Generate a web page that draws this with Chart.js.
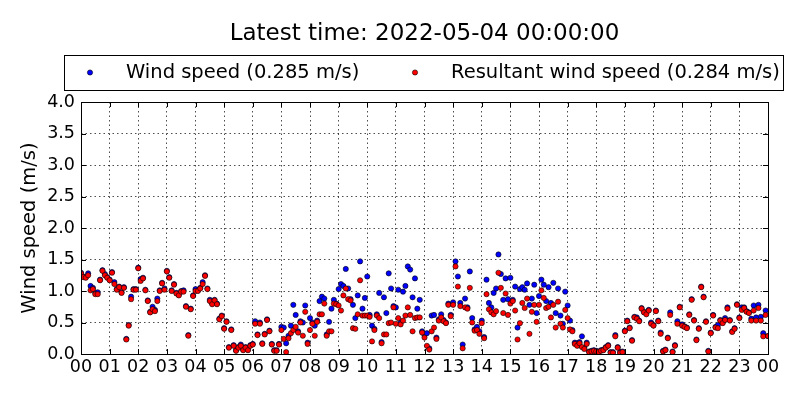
<!DOCTYPE html>
<html>
<head>
<meta charset="utf-8">
<script src="https://cdn.jsdelivr.net/npm/chart.js@4.4.0/dist/chart.umd.min.js"></script>
<style>
  html, body { margin: 0; padding: 0; background: #fff; }
  #wrap { width: 800px; height: 400px; }
</style>
</head>
<body>
<div id="wrap"><canvas id="windChart"></canvas></div>
<script>
// x axis tick labels, one per hour (00 .. 23, then 00 of the next day)
var hourLabels = ["00", "01", "02", "03", "04", "05", "06", "07", "08", "09", "10", "11",
                  "12", "13", "14", "15", "16", "17", "18", "19", "20", "21", "22", "23", "00"];

var seriesNames = ["Wind speed (0.285 m/s)", "Resultant wind speed (0.284 m/s)"];
var sampleMinutes = 5;

// wind speed (m/s), 5 minute samples, one row per hour
var windSpeed = [
  1.29, 1.23, 1.22, 1.28, 1.08, 1.05, 0.97, 0.98, 1.18, 1.33, 1.27, 1.22, // 00
  1.18, 1.30, 1.14, 1.03, 1.07, 0.98, 1.06, 0.24, 0.46, 0.91, 1.03, 1.03, // 01
  1.37, 1.19, 1.21, 1.02, 0.85, 0.67, 0.75, 0.70, 0.88, 1.01, 1.13, 1.04, // 02
  1.32, 1.22, 1.01, 1.11, 0.97, 0.94, 1.00, 1.01, 0.76, 0.30, 0.72, 0.93, // 03
  1.03, 1.01, 1.05, 1.14, 1.25, 1.04, 0.86, 0.80, 0.86, 0.80, 0.56, 0.61, // 04
  0.41, 0.52, 0.11, 0.39, 0.14, 0.06, 0.11, 0.15, 0.07, 0.11, 0.07, 0.14, // 05
  0.16, 0.52, 0.31, 0.50, 0.17, 0.32, 0.55, 0.37, 0.16, 0.06, 0.06, 0.16, // 06
  0.43, 0.42, 0.17, 0.29, 0.45, 0.78, 0.62, 0.36, 0.52, 0.50, 0.77, 0.18, // 07
  0.57, 0.50, 0.45, 0.53, 0.84, 0.91, 0.88, 0.31, 0.51, 0.72, 0.86, 0.80, // 08
  1.03, 1.11, 1.08, 1.35, 1.04, 0.87, 0.78, 0.57, 0.93, 1.47, 0.72, 0.89, // 09
  1.23, 0.62, 0.45, 0.40, 0.63, 0.97, 0.19, 0.90, 0.65, 1.28, 1.04, 0.76, // 10
  0.74, 1.02, 0.50, 0.99, 1.08, 1.39, 1.34, 0.90, 1.20, 0.72, 0.86, 0.36, // 11
  0.30, 0.33, 0.09, 0.61, 0.62, 0.26, 0.55, 0.63, 0.54, 0.50, 0.80, 0.62, // 12
  0.82, 1.47, 1.23, 0.81, 0.15, 0.88, 0.74, 1.31, 0.57, 0.39, 0.43, 0.36, // 13
  0.53, 0.27, 1.18, 0.81, 0.74, 0.97, 1.04, 1.58, 1.27, 0.86, 1.20, 0.87, // 14
  1.21, 0.86, 1.07, 0.42, 1.03, 1.06, 1.02, 1.12, 0.78, 0.88, 1.10, 0.65, // 15
  0.92, 1.18, 1.10, 0.84, 1.06, 0.81, 1.13, 0.65, 1.04, 0.61, 0.48, 0.99, // 16
  0.77, 0.53, 0.38, 0.18, 0.17, 0.19, 0.28, 0.10, 0.18, 0.04, 0.05, 0.06, // 17
  0.05, 0.04, 0.06, 0.07, 0.11, 0.14, 0.03, 0.03, 0.30, 0.11, 0.03, 0.04, // 18
  0.37, 0.53, 0.42, 0.22, 0.59, 0.58, 0.53, 0.73, 0.67, 0.65, 0.70, 0.50, // 19
  0.46, 0.69, 0.53, 0.34, 0.05, 0.07, 0.26, 0.66, 0.04, 0.14, 0.52, 0.75, // 20
  0.47, 0.44, 0.42, 0.63, 0.87, 0.54, 0.23, 0.41, 1.07, 0.91, 0.52, 0.05, // 21
  0.34, 0.62, 0.43, 0.46, 0.54, 0.50, 0.57, 0.74, 0.54, 0.36, 0.41, 0.79, // 22
  0.58, 0.74, 0.74, 0.68, 0.66, 0.56, 0.77, 0.58, 0.78, 0.59, 0.33, 0.69, // 23
  0.285
];

// resultant (vector mean) wind speed (m/s), same sampling
var resultantSpeed = [
  1.28, 1.22, 1.21, 1.25, 1.01, 1.03, 0.95, 0.95, 1.17, 1.32, 1.25, 1.21, // 00
  1.17, 1.29, 1.11, 1.02, 1.06, 0.97, 1.05, 0.23, 0.45, 0.87, 1.02, 1.02, // 01
  1.36, 1.16, 1.20, 1.01, 0.84, 0.66, 0.71, 0.68, 0.84, 1.00, 1.12, 1.02, // 02
  1.31, 1.21, 1.00, 1.10, 0.96, 0.93, 0.99, 0.99, 0.75, 0.29, 0.71, 0.92, // 03
  1.00, 1.00, 1.04, 1.11, 1.24, 1.03, 0.84, 0.79, 0.85, 0.79, 0.55, 0.60, // 04
  0.40, 0.51, 0.10, 0.38, 0.13, 0.05, 0.10, 0.13, 0.06, 0.10, 0.06, 0.13, // 05
  0.15, 0.48, 0.30, 0.48, 0.16, 0.31, 0.54, 0.36, 0.15, 0.05, 0.05, 0.15, // 06
  0.38, 0.24, 0.03, 0.25, 0.33, 0.38, 0.43, 0.34, 0.50, 0.29, 0.67, 0.16, // 07
  0.38, 0.48, 0.29, 0.51, 0.63, 0.63, 0.80, 0.29, 0.36, 0.36, 0.80, 0.79, // 08
  0.77, 0.69, 0.93, 1.04, 0.87, 0.85, 0.41, 0.40, 0.63, 1.17, 0.61, 0.61, // 09
  0.61, 0.59, 0.20, 0.38, 0.61, 0.57, 0.17, 0.31, 0.31, 0.49, 0.50, 0.74, // 10
  0.48, 0.57, 0.47, 0.53, 0.61, 0.74, 0.62, 0.36, 0.57, 0.58, 0.58, 0.34, // 11
  0.26, 0.13, 0.07, 0.36, 0.42, 0.24, 0.53, 0.58, 0.52, 0.49, 0.78, 0.60, // 12
  0.78, 1.39, 1.07, 0.76, 0.09, 0.74, 0.72, 1.05, 0.50, 0.37, 0.38, 0.32, // 13
  0.49, 0.25, 0.95, 0.71, 0.66, 0.63, 0.68, 1.29, 1.05, 0.65, 0.96, 0.62, // 14
  0.80, 0.84, 0.69, 0.23, 0.49, 0.81, 0.73, 0.88, 0.32, 0.67, 0.78, 0.51, // 15
  0.78, 1.01, 0.89, 0.73, 0.75, 0.58, 0.78, 0.42, 0.83, 0.48, 0.42, 0.70, // 16
  0.57, 0.39, 0.36, 0.16, 0.13, 0.17, 0.11, 0.08, 0.16, 0.03, 0.04, 0.05, // 17
  0.04, 0.03, 0.05, 0.06, 0.10, 0.13, 0.02, 0.02, 0.28, 0.10, 0.02, 0.03, // 18
  0.36, 0.52, 0.41, 0.21, 0.58, 0.56, 0.52, 0.72, 0.66, 0.63, 0.69, 0.48, // 19
  0.45, 0.68, 0.52, 0.32, 0.04, 0.06, 0.25, 0.62, 0.03, 0.13, 0.48, 0.74, // 20
  0.45, 0.43, 0.41, 0.62, 0.86, 0.53, 0.22, 0.40, 1.06, 0.90, 0.51, 0.04, // 21
  0.33, 0.61, 0.42, 0.41, 0.53, 0.49, 0.54, 0.72, 0.53, 0.35, 0.40, 0.78, // 22
  0.57, 0.70, 0.73, 0.67, 0.65, 0.53, 0.69, 0.53, 0.73, 0.53, 0.28, 0.62, // 23
  0.284
];

function toPoints(values) {
  return values.map(function (v, i) {
    return { x: i * sampleMinutes / 60, y: v };
  });
}

var FONT = '"DejaVu Sans", sans-serif';

// matplotlib style legend: a framed row above the axes
var boxedLegend = {
  id: 'boxedLegend',
  afterDraw: function (chart, args, opts) {
    var ctx = chart.ctx;
    var cy = opts.top + opts.height / 2;
    ctx.save();
    ctx.lineWidth = 1;
    ctx.strokeStyle = '#000';
    ctx.strokeRect(opts.left + 0.5, opts.top + 0.5, opts.width, opts.height);
    ctx.font = opts.fontSize + 'px ' + FONT;
    ctx.textBaseline = 'middle';
    chart.data.datasets.forEach(function (ds, i) {
      var item = opts.items[i];
      ctx.beginPath();
      ctx.arc(item.dot, cy, 2.6, 0, Math.PI * 2);
      ctx.fillStyle = ds.backgroundColor;
      ctx.fill();
      ctx.lineWidth = 0.6;
      ctx.strokeStyle = '#000';
      ctx.stroke();
      ctx.fillStyle = '#000';
      ctx.fillText(ds.label, item.text, cy);
    });
    ctx.restore();
  }
};

// axes box with inward tick marks on all four sides
var axesFrame = {
  id: 'axesFrame',
  afterDatasetsDraw: function (chart) {
    var a = chart.chartArea, ctx = chart.ctx;
    var xs = chart.scales.x, ys = chart.scales.y;
    var len = 5;
    ctx.save();
    ctx.strokeStyle = '#000';
    ctx.lineWidth = 1;
    ctx.beginPath();
    xs.ticks.forEach(function (t) {
      var px = Math.round(xs.getPixelForValue(t.value)) + 0.5;
      ctx.moveTo(px, a.bottom); ctx.lineTo(px, a.bottom - len);
      ctx.moveTo(px, a.top); ctx.lineTo(px, a.top + len);
    });
    ys.ticks.forEach(function (t) {
      var py = Math.round(ys.getPixelForValue(t.value)) + 0.5;
      ctx.moveTo(a.left, py); ctx.lineTo(a.left + len, py);
      ctx.moveTo(a.right, py); ctx.lineTo(a.right - len, py);
    });
    ctx.stroke();
    ctx.strokeRect(Math.round(a.left) + 0.5, Math.round(a.top) + 0.5,
                   Math.round(a.right - a.left), Math.round(a.bottom - a.top));
    ctx.restore();
  }
};

var ctx = document.getElementById('windChart').getContext('2d');
var windChart = new Chart(ctx, {
  type: 'scatter',
  data: {
    datasets: [{
        label: seriesNames[0],
        data: toPoints(windSpeed),
        backgroundColor: '#0000ff',
        borderColor: '#000',
        borderWidth: 0.6,
        pointRadius: 2.6,
        order: 2
      },
      {
        label: seriesNames[1],
        data: toPoints(resultantSpeed),
        backgroundColor: '#ff0000',
        borderColor: '#000',
        borderWidth: 0.6,
        pointRadius: 2.6,
        order: 1
      }
    ]
  },
  options: {
    responsive: true,
    maintainAspectRatio: false,
    animation: false,
    events: [],
    layout: { padding: { left: 0, right: 32, top: 0, bottom: 0 } },
    plugins: {
      legend: { display: false },
      tooltip: { enabled: false },
      title: {
        display: true,
        text: 'Latest time: 2022-05-04 00:00:00',
        fullSize: false,
        color: '#000',
        font: { family: FONT, size: 23, weight: 'normal' },
        padding: { top: 20, bottom: 54.4 }
      },
      boxedLegend: {
        left: 64, top: 55, width: 719, height: 35, fontSize: 19.5,
        items: [{ dot: 90, text: 126 }, { dot: 415, text: 451 }]
      }
    },
    scales: {
      x: {
        type: 'linear',
        min: 0,
        max: 24,
        afterFit: function (s) { s.height = 46; },
        grid: { color: '#000', lineWidth: 0.7, drawTicks: false },
        border: { display: false, dash: [1.5, 3] },
        ticks: {
          stepSize: 1,
          autoSkip: false,
          maxRotation: 0,
          padding: 3,
          color: '#000',
          font: { family: FONT, size: 17.5 },
          callback: function (value) { return hourLabels[value]; }
        }
      },
      y: {
        min: 0,
        max: 4,
        afterFit: function (s) { s.width = 81; },
        grid: { color: '#000', lineWidth: 0.7, drawTicks: false },
        border: { display: false, dash: [1.5, 3] },
        title: {
          display: true,
          text: 'Wind speed (m/s)',
          color: '#000',
          font: { family: FONT, size: 19.5 },
          padding: { top: 18, bottom: 0 }
        },
        ticks: {
          stepSize: 0.5,
          padding: 6,
          color: '#000',
          font: { family: FONT, size: 17.5 },
          callback: function (value) { return value.toFixed(1); }
        }
      }
    }
  },
  plugins: [boxedLegend, axesFrame]
});
</script>
</body>
</html>
